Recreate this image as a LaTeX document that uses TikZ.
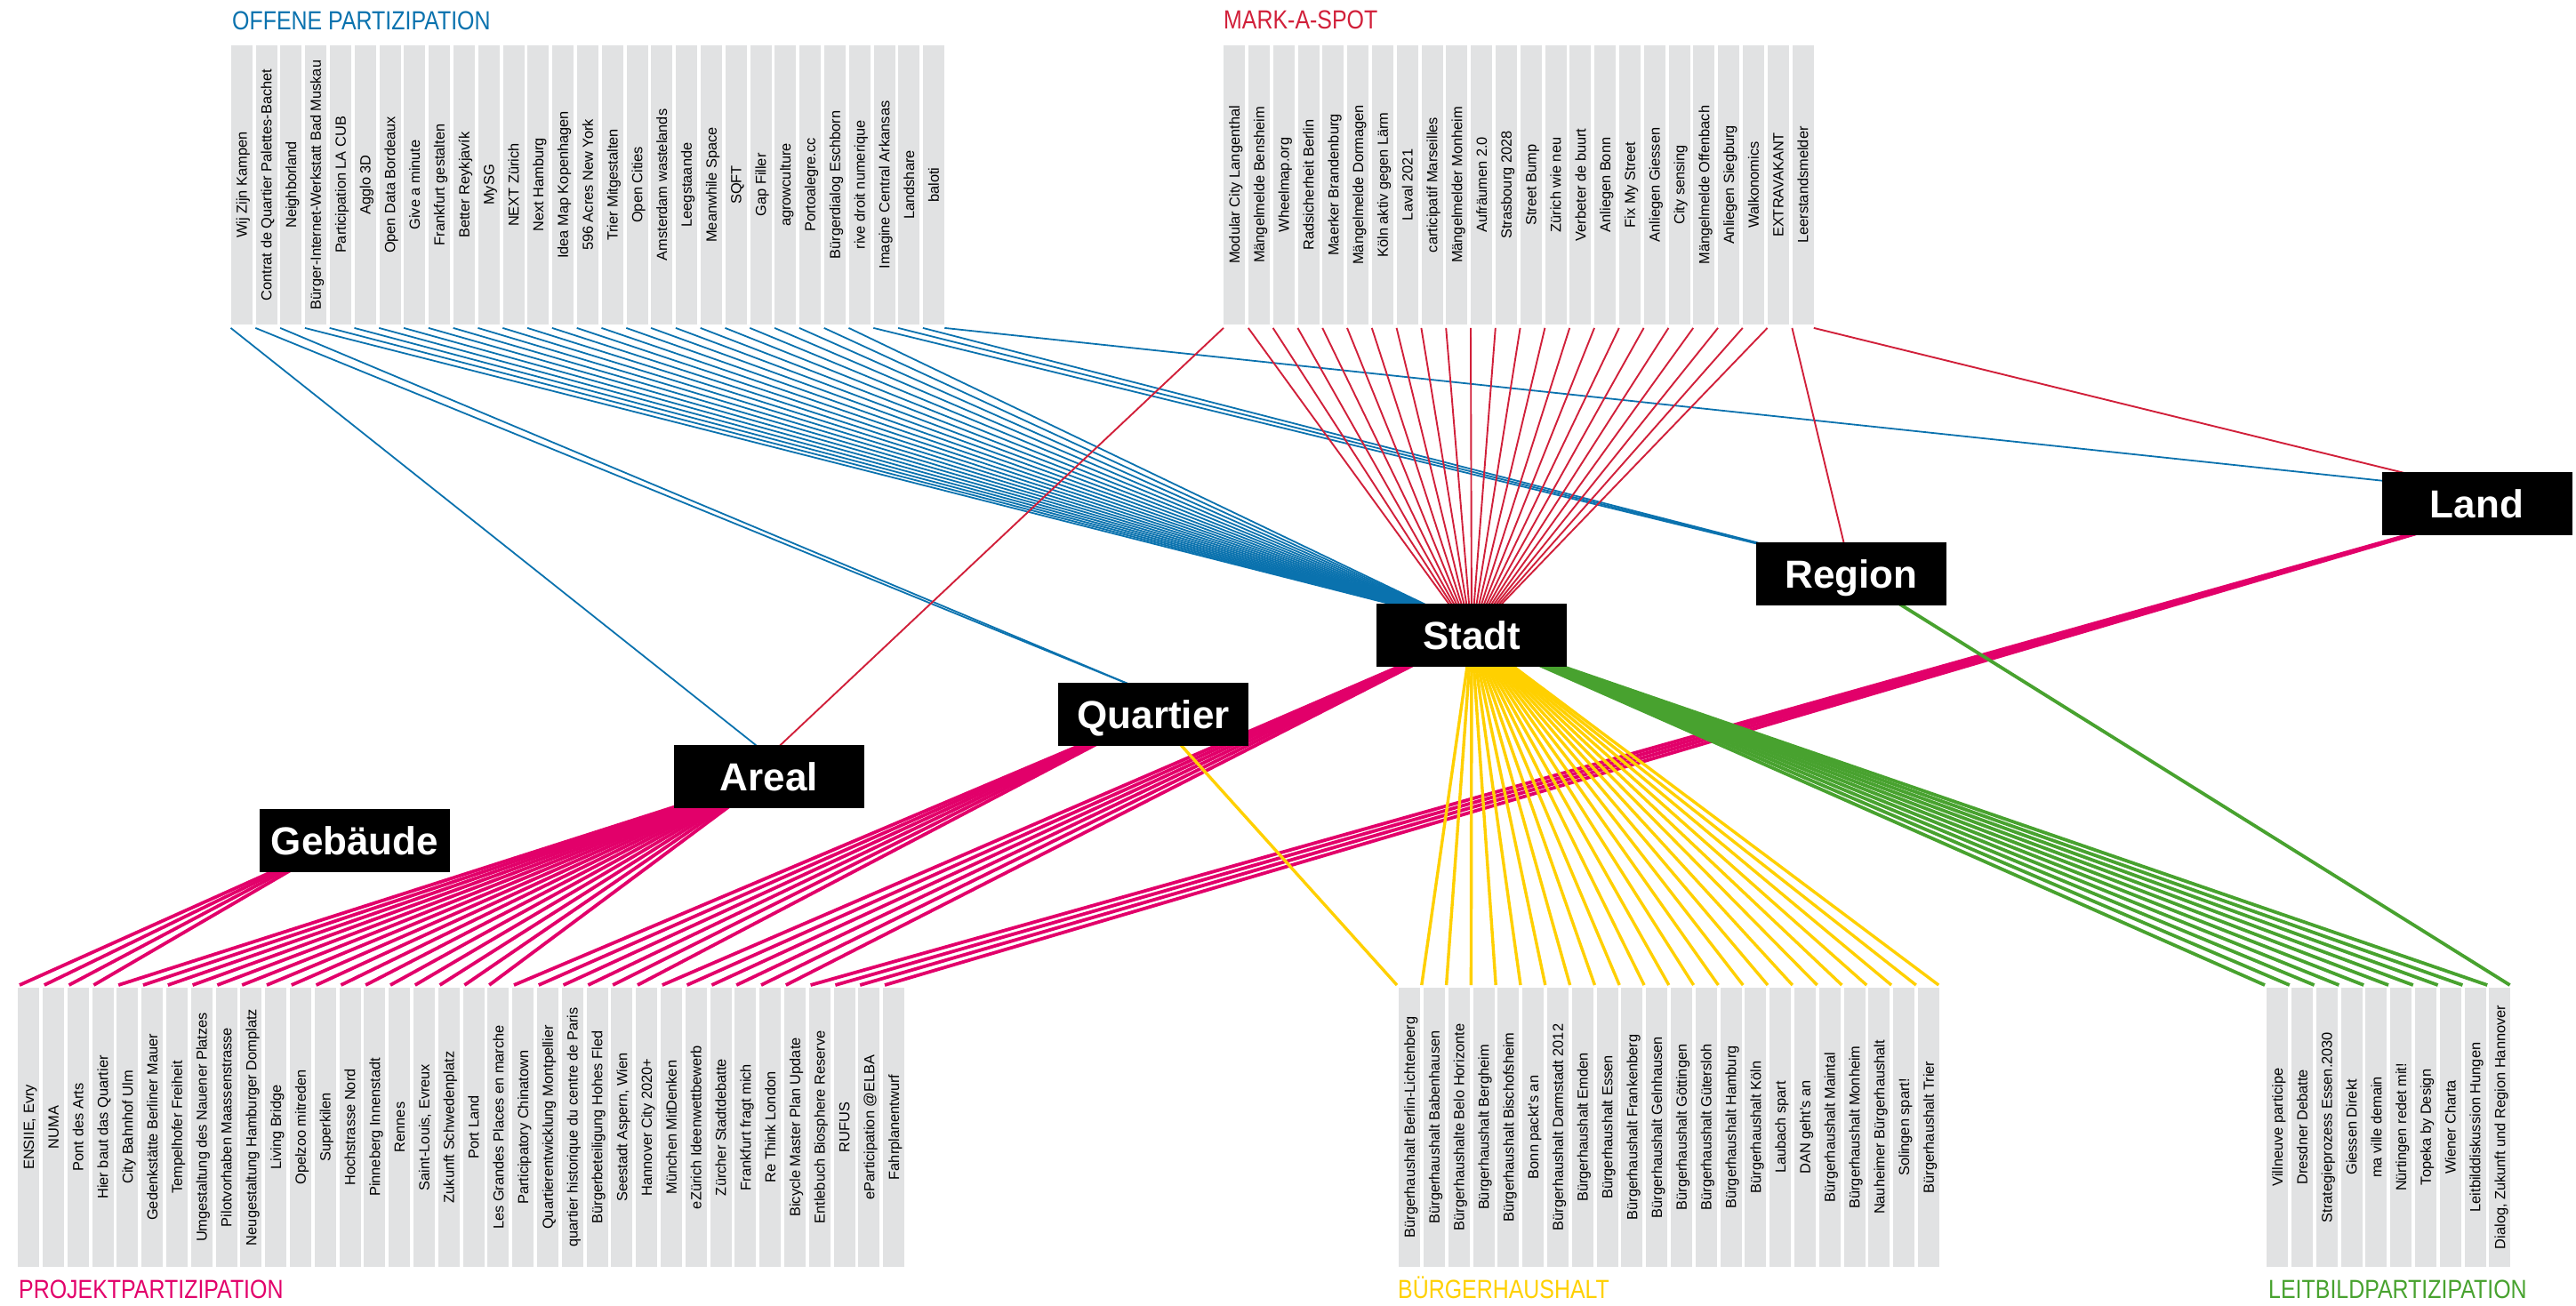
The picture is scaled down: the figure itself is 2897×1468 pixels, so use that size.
\documentclass[tikz,border=0pt]{standalone}
\usepackage{fontspec}
\setmainfont{Liberation Sans}
\newfontfamily\titlefont[FakeStretch=0.845]{Liberation Sans}
\usetikzlibrary{calc,backgrounds}
\definecolor{cblue}{HTML}{0A72AE}
\definecolor{cred}{HTML}{D1203A}
\definecolor{cmag}{HTML}{E2006A}
\definecolor{cyel}{HTML}{FFD000}
\definecolor{cgreen}{HTML}{48A22F}
\definecolor{cbar}{HTML}{E1E2E3}
\tikzset{
  hub/.style={fill=black, text=white, minimum width=214pt, minimum height=71pt, inner sep=0pt,
    font=\fontsize{44}{44}\selectfont\bfseries, text height=31.5pt, text depth=0pt},
  barbox/.style={fill=cbar, draw=none, minimum width=24pt, minimum height=313.5pt, inner sep=0pt, anchor=north west},
  barlabel/.style={rotate=90, inner sep=0pt, font=\fontsize{16.4}{16.4}\selectfont, text height=11.7pt, text depth=0pt},
  grouptitle/.style={anchor=base west, inner sep=0pt, font=\titlefont\fontsize{29.5}{29.5}\selectfont},
  lblue/.style={draw=cblue, line width=1.8pt},
  lred/.style={draw=cred, line width=1.9pt},
  lmag/.style={draw=cmag, line width=3.8pt},
  lyel/.style={draw=cyel, line width=3.4pt},
  lgreen/.style={draw=cgreen, line width=3.8pt}
}
\begin{document}
\begin{tikzpicture}[x=1pt,y=-1pt]
\useasboundingbox (0,0) rectangle (2897,1468);

% hubs
\node[hub] (Land) at (2785.5,566.5) {Land};
\node[hub] (Region) at (2082,645.5) {Region};
\node[hub] (Stadt) at (1655,714.5) {Stadt};
\node[hub] (Quartier) at (1297,803.5) {Quartier};
\node[hub] (Areal) at (865,873.5) {Areal};
\node[hub] (Gebaeude) at (399,945.5) {Gebäude};

\coordinate (AreaT) at ($(Areal.center)+(0,-23.5)$);
\coordinate (QuarT) at ($(Quartier.center)+(-7,-25.5)$);
\coordinate (StadtB) at ($(Stadt.center)+(-10,-14.5)$);
\coordinate (RegT) at ($(Region.center)+(0,-8)$);
\coordinate (LandT) at ($(Land.center)+(0,-14.5)$);
\coordinate (GebM) at ($(Gebaeude.center)+(-15,0)$);
\coordinate (LandM) at ($(Land.center)+(0,13.5)$);

% group titles
\node[grouptitle, text=cblue] (tOP) at (261,33) {OFFENE PARTIZIPATION};
\node[grouptitle, text=cred] (tMA) at (1376,32) {MARK-A-SPOT};
\node[grouptitle, text=cmag] (tPP) at (21,1460) {PROJEKTPARTIZIPATION};
\node[grouptitle, text=cyel] (tBH) at (1572,1460) {BÜRGERHAUSHALT};
\node[grouptitle, text=cgreen] (tLB) at (2551,1460) {LEITBILDPARTIZIPATION};

% Offene Partizipation bars
\foreach \t [count=\i] in {{Wij Zijn Kampen},{Contrat de Quartier Palettes-Bachet},{Neighborland},
  {Bürger-Internet-Werkstatt Bad Muskau},{Participation LA CUB},{Agglo 3D},{Open Data Bordeaux},
  {Give a minute},{Frankfurt gestalten},{Better Reykjavík},{MySG},{NEXT Zürich},{Next Hamburg},
  {Idea Map Kopenhagen},{596 Acres New York},{Trier Mitgestalten},{Open Cities},{Amsterdam wastelands},
  {Leegstaande},{Meanwhile Space},{SQFT},{Gap Filler},{agrowculture},{Portoalegre.cc},
  {Bürgerdialog Eschborn},{rive droit numerique},{Imagine Central Arkansas},{Landshare},{baloti}}{
  \node[barbox] (OP\i) at ({259.5+27.8*(\i-1)},51) {};
  \node[barlabel] (OPt\i) at (OP\i.center) {\t};
}

% Mark-a-spot bars
\foreach \t [count=\i] in {{Modular City Langenthal},{Mängelmelde Bensheim},{Wheelmap.org},
  {Radsicherheit Berlin},{Maerker Brandenburg},{Mängelmelde Dormagen},{Köln aktiv gegen Lärm},
  {Laval 2021},{carticipatif Marseilles},{Mängelmelder Monheim},{Aufräumen 2.0},{Strasbourg 2028},
  {Street Bump},{Zürich wie neu},{Verbeter de buurt},{Anliegen Bonn},{Fix My Street},
  {Anliegen Giessen},{City sensing},{Mängelmelde Offenbach},{Anliegen Siegburg},{Walkonomics},
  {EXTRAVAKANT},{Leerstandsmelder}}{
  \node[barbox] (MA\i) at ({1376+27.8*(\i-1)},51) {};
  \node[barlabel] (MAt\i) at (MA\i.center) {\t};
}

% Projektpartizipation bars
\foreach \t [count=\i] in {{ENSIIE, Evry},{NUMA},{Pont des Arts},{Hier baut das Quartier},
  {City Bahnhof Ulm},{Gedenkstätte Berliner Mauer},{Tempelhofer Freiheit},
  {Umgestaltung des Nauener Platzes},{Pilotvorhaben Maassenstrasse},
  {Neugestaltung Hamburger Domplatz},{Living Bridge},{Opelzoo mitreden},{Superkilen},
  {Hochstrasse Nord},{Pinneberg Innenstadt},{Rennes},{Saint-Louis, Evreux},{Zukunft Schwedenplatz},
  {Port Land},{Les Grandes Places en marche},{Participatory Chinatown},
  {Quartierentwicklung Montpellier},{quartier historique du centre de Paris},
  {Bürgerbeteiligung Hohes Fled},{Seestadt Aspern, Wien},{Hannover City 2020+},
  {München MitDenken},{eZürich Ideenwettbewerb},{Zürcher Stadtdebatte},{Frankfurt fragt mich},
  {Re Think London},{Bicycle Master Plan Update},{Entlebuch Biosphere Reserve},{RUFUS},
  {eParticipation @ELBA},{Fahrplanentwurf}}{
  \node[barbox] (PP\i) at ({20+27.8*(\i-1)},1111) {};
  \node[barlabel] (PPt\i) at (PP\i.center) {\t};
}

% Buergerhaushalt bars
\foreach \t [count=\i] in {{Bürgerhaushalt Berlin-Lichtenberg},{Bürgerhaushalt Babenhausen},
  {Bürgerhaushalte Belo Horizonte},{Bürgerhaushalt Bergheim},{Bürgerhaushalt Bischofsheim},
  {Bonn packt's an},{Bürgerhaushalt Darmstadt 2012},{Bürgerhaushalt Emden},{Bürgerhaushalt Essen},
  {Bürgerhaushalt Frankenberg},{Bürgerhaushalt Gelnhausen},{Bürgerhaushalt Göttingen},
  {Bürgerhaushalt Gütersloh},{Bürgerhaushalt Hamburg},{Bürgerhaushalt Köln},{Laubach spart},
  {DAN geht's an},{Bürgerhaushalt Maintal},{Bürgerhaushalt Monheim},{Nauheimer Bürgerhaushalt},
  {Solingen spart!},{Bürgerhaushalt Trier}}{
  \node[barbox] (BH\i) at ({1573+27.8*(\i-1)},1111) {};
  \node[barlabel] (BHt\i) at (BH\i.center) {\t};
}

% Leitbildpartizipation bars
\foreach \t [count=\i] in {{Villneuve participe},{Dresdner Debatte},{Strategieprozess Essen.2030},
  {Giessen Direkt},{ma ville demain},{Nürtingen redet mit!},{Topeka by Design},{Wiener Charta},
  {Leitbilddiskussion Hungen},{Dialog, Zukunft und Region Hannover}}{
  \node[barbox] (LB\i) at ({2549+27.8*(\i-1)},1111) {};
  \node[barlabel] (LBt\i) at (LB\i.center) {\t};
}

% connectors
\begin{scope}[on background layer]
  % blue
  \draw[lblue] ($(OP1.south west)+(0,4)$) -- (AreaT);
  \foreach \i in {2,3} \draw[lblue] ($(OP\i.south west)+(0,4)$) -- (QuarT);
  \foreach \i in {4,...,26} \draw[lblue] ($(OP\i.south west)+(0,4)$) -- (StadtB);
  \foreach \i in {27,28,29} \draw[lblue] ($(OP\i.south west)+(0,4)$) -- (RegT);
  \draw[lblue] ($(OP29.south east)+(0,4)$) -- (LandT);
  % red
  \draw[lred] ($(MA1.south west)+(0,4)$) -- (AreaT);
  \foreach \i in {2,...,23} \draw[lred] ($(MA\i.south west)+(0,4)$) -- (Stadt.center);
  \draw[lred] ($(MA24.south west)+(0,4)$) -- (Region.center);
  \draw[lred] ($(MA24.south east)+(0,4)$) -- (LandT);
  % magenta
  \foreach \i in {1,...,4} \draw[lmag] ($(PP\i.north west)+(2,-3)$) -- (GebM);
  \foreach \i in {5,...,20} \draw[lmag] ($(PP\i.north west)+(2,-3)$) -- (Areal.center);
  \foreach \i in {21,...,26} \draw[lmag] ($(PP\i.north west)+(2,-3)$) -- (Quartier.center);
  \foreach \i in {27,...,32} \draw[lmag] ($(PP\i.north west)+(2,-3)$) -- (Stadt.center);
  \foreach \i in {33,...,36} \draw[lmag] ($(PP\i.north west)+(2,-3)$) -- (LandM);
  % yellow
  \draw[lyel] ($(BH1.north west)+(-2,-3)$) -- (Quartier.center);
  \foreach \i in {2,...,22} \draw[lyel] ($(BH\i.north west)+(-2,-3)$) -- (Stadt.center);
  \draw[lyel] ($(BH22.north east)+(-1,-3)$) -- (Stadt.center);
  % green
  \foreach \i in {1,...,10} \draw[lgreen] ($(LB\i.north west)+(-2,-3)$) -- (Stadt.center);
  \draw[lgreen] ($(LB10.north east)+(-1,-3)$) -- (Region.center);
\end{scope}
\end{tikzpicture}
\end{document}
